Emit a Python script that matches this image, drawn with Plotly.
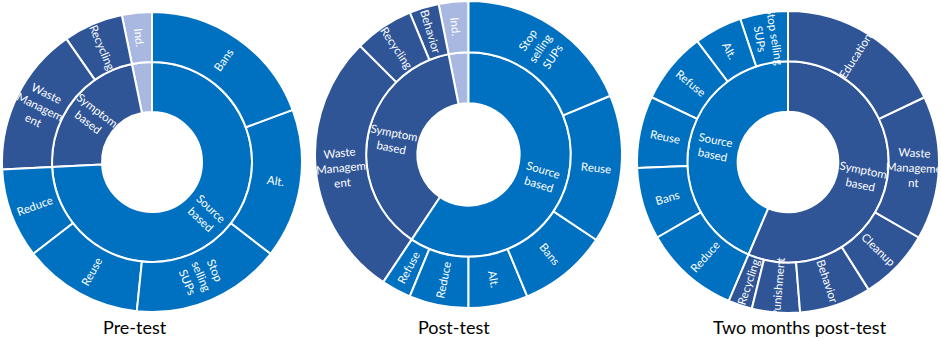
import math
import plotly.graph_objects as go

# ---- data (clockwise from 12 o'clock) ----
pre_source_labels = ["Bans", "Alt.", "Stop<br>selling<br>SUPs", "Reuse", "Reduce"]
pre_source_values = [6, 5, 5, 4, 3]
pre_symptom_labels = ["Waste<br>Managem<br>ent", "Recycling"]
pre_symptom_values = [5, 2]
pre_ind_value = 1

post_source_labels = ["Stop<br>selling<br>SUPs", "Reuse", "Bans", "Alt.", "Reduce", "Refuse"]
post_source_values = [6, 5, 3, 2, 2, 1]
post_symptom_labels = ["Waste<br>Managem<br>ent", "Recycling", "Behavior"]
post_symptom_values = [9, 2, 1]
post_ind_value = 1

two_symptom_labels = ["Education", "Waste<br>Manageme<br>nt", "Cleanup", "Behavior", "Punishment", "Recycling"]
two_symptom_values = [7, 6, 3, 3, 2, 1]
two_source_labels = ["Reduce", "Bans", "Reuse", "Refuse", "Alt.", "Stop selling<br>SUPs"]
two_source_values = [4, 3, 3, 3, 2, 2]

panel_titles = ["Pre-test", "Post-test", "Two months post-test"]

SOURCE_C = "#0070C0"
SYMPTOM_C = "#2F5597"
IND_C = "#A9B8E1"
FONT = "Lato, Open Sans, sans-serif"

W, H = 941, 339


def build(prefix, groups):
    """groups: list of (inner_label, color, child_labels, child_values) in clockwise order."""
    ids, labels, parents, values, colors = [], [], [], [], []
    total = sum(sum(g[3]) for g in groups)
    root = prefix + "root"
    ids.append(root); labels.append(""); parents.append(""); values.append(total); colors.append("white")
    # plotly lays sectors counterclockwise -> reverse for clockwise appearance
    for gi, (glab, gcol, clabs, cvals) in enumerate(reversed(groups)):
        gid = f"{prefix}g{gi}"
        ids.append(gid); labels.append(glab); parents.append(root); values.append(sum(cvals)); colors.append(gcol)
        for ci, (cl, cv) in enumerate(reversed(list(zip(clabs, cvals)))):
            ids.append(f"{gid}c{ci}"); labels.append(cl); parents.append(gid); values.append(cv); colors.append(gcol)
    return ids, labels, parents, values, colors


def radial_angle(theta):
    a = theta - 90
    if a > 90:
        a -= 180
    if a <= -90:
        a += 180
    return a


def label_annotations(groups, box):
    x0, x1, y0, y1 = box
    cx, cy = (x0 + x1) / 2, (y0 + y1) / 2
    R = min(x1 - x0, y1 - y0) / 2
    total = sum(sum(g[3]) for g in groups)
    anns = []

    def add(text, a_start, a_end, r):
        th = (a_start + a_end) / 2
        px = cx + r * math.sin(math.radians(th))
        py = cy - r * math.cos(math.radians(th))
        anns.append(dict(x=px / W, y=1 - py / H, xref="paper", yref="paper", text=text,
                         showarrow=False, xanchor="center", yanchor="middle",
                         textangle=radial_angle(th),
                         font=dict(family=FONT, size=11.5, color="white")))

    cum = 0
    for glab, gcol, clabs, cvals in groups:
        g0 = cum / total * 360
        g1 = (cum + sum(cvals)) / total * 360
        if glab:
            add(glab, g0, g1, R / 2)
        for cl, cv in zip(clabs, cvals):
            c0 = cum / total * 360
            c1 = (cum + cv) / total * 360
            add(cl, c0, c1, 5 * R / 6)
            cum += cv
    return anns


specs = [
    ([("Source<br>based", SOURCE_C, pre_source_labels, pre_source_values),
      ("Symptom<br>based", SYMPTOM_C, pre_symptom_labels, pre_symptom_values),
      ("", IND_C, ["Ind."], [pre_ind_value])], ("a", (2, 302, 12, 312))),
    ([("Source<br>based", SOURCE_C, post_source_labels, post_source_values),
      ("Symptom<br>based", SYMPTOM_C, post_symptom_labels, post_symptom_values),
      ("", IND_C, ["Ind."], [post_ind_value])], ("b", (315, 622, 1, 308))),
    ([("Symptom<br>based", SYMPTOM_C, two_symptom_labels, two_symptom_values),
      ("Source<br>based", SOURCE_C, two_source_labels, two_source_values)], ("c", (637, 939, 11, 313))),
]

fig = go.Figure()
annotations = []
for groups, (prefix, box) in specs:
    ids, labels, parents, values, colors = build(prefix, groups)
    x0, x1, y0, y1 = box
    fig.add_trace(go.Sunburst(
        ids=ids, labels=labels, parents=parents, values=values,
        branchvalues="total", sort=False, rotation=90,
        marker=dict(colors=colors, line=dict(color="white", width=2)),
        leaf=dict(opacity=1),
        textinfo="none",
        domain=dict(x=[x0 / W, x1 / W], y=[1 - y1 / H, 1 - y0 / H]),
        hoverinfo="label+value",
    ))
    annotations += label_annotations(groups, box)

title_x = [135, 454, 800]
for x, t in zip(title_x, panel_titles):
    annotations.append(dict(x=x / W, y=1 - 327 / H, xref="paper", yref="paper",
                            text=t, showarrow=False, xanchor="center", yanchor="middle",
                            font=dict(family=FONT, size=18, color="black")))

fig.update_layout(width=W, height=H, margin=dict(l=0, r=0, t=0, b=0),
                  paper_bgcolor="white", plot_bgcolor="white",
                  annotations=annotations)
fig.write_html("out.html", config={"displayModeBar": False},
               post_script="document.body.style.margin='0';")
